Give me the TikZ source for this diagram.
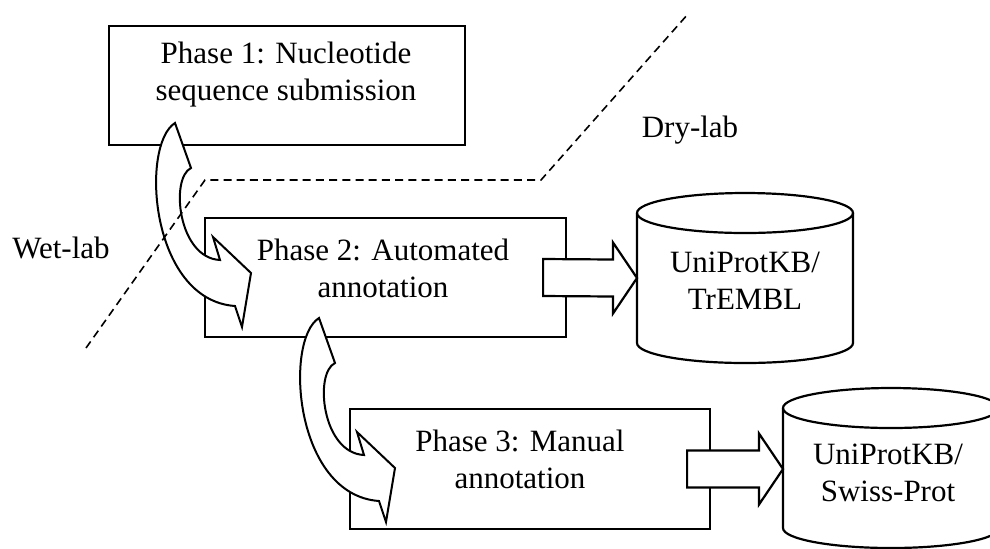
\documentclass[tikz,border=0pt]{standalone}
\usepackage{fontspec}
\setmainfont{Liberation Serif}
\usetikzlibrary{calc}
\begin{document}
\begin{tikzpicture}[x=0.5pt,y=-0.5pt,line join=miter,
  phasebox/.style={draw,line width=1.1pt,fill=white,inner sep=0pt},
  lbl/.style={font=\fontsize{15.5}{18.5}\selectfont,align=center,inner sep=0pt},
  bendstyle/.style={draw,fill=white,line width=1pt},
  blockarrow/.style={draw,fill=white,line width=1.1pt},
  divider/.style={dash pattern=on 4pt off 2.6pt,line width=0.8pt},
  dbline/.style={draw,line width=1.1pt},
  bendarrow/.pic={\path[bendstyle] (175,123) -- (191,168)
      .. controls (170,178) and (178,258) .. (220,260) -- (213,237) -- (251,273)
      -- (242,327) -- (235,306) .. controls (150,300) and (140,145) .. (175,123) -- cycle;}
]
\useasboundingbox (0,0) rectangle (990,548);
\clip (0,0) rectangle (990,548);

% phase boxes
\node[phasebox,minimum width=178pt,minimum height=59.5pt] (box1) at (287,85.5) {};
\node[phasebox,minimum width=180.5pt,minimum height=59.5pt] (box2) at (385.5,277.5) {};
\node[phasebox,minimum width=180pt,minimum height=60pt] (box3) at (530,469) {};

% curved arrows between phases
\pic (bend1) at (0,0) {bendarrow};
\pic (bend2) at (144,195) {bendarrow};

% wet/dry divider
\coordinate (d1) at (86,348);
\coordinate (d2) at (205,180);
\coordinate (d3) at (541,180);
\coordinate (d4) at (688,14);
\draw[divider] (d1) -- (d2) -- (d3) -- (d4);

% databases
\coordinate (c1w) at (637,278);
\coordinate (c2w) at (783,469);
\fill[white] (637,213) -- (637,343) arc[start angle=180,end angle=360,x radius=54pt,y radius=10pt]
  -- (853,213) -- cycle;
\path[dbline] (637,213) -- (637,343) arc[start angle=180,end angle=360,x radius=54pt,y radius=10pt]
  -- (853,213);
\draw[line width=1.1pt] (745,213) ellipse[x radius=54pt,y radius=10pt];
\fill[white] (783,408) -- (783,528) arc[start angle=180,end angle=360,x radius=54pt,y radius=10pt]
  -- (999,408) -- cycle;
\path[dbline] (783,408) -- (783,528) arc[start angle=180,end angle=360,x radius=54pt,y radius=10pt]
  -- (999,408);
\draw[line width=1.1pt] (891,408) ellipse[x radius=54pt,y radius=10pt];

% block arrows
\draw[blockarrow] ($(box2.east)+(-24,-18.5)$) -- ($(c1w)+(-24,-18.5)$) -- ($(c1w)+(-24,-35.5)$)
  -- (c1w) -- ($(c1w)+(-24,35.5)$) -- ($(c1w)+(-24,18.5)$) -- ($(box2.east)+(-24,18.5)$) -- cycle;
\draw[blockarrow] ($(box3.east)+(-24,-18.5)$) -- ($(c2w)+(-24,-18.5)$) -- ($(c2w)+(-24,-35.5)$)
  -- (c2w) -- ($(c2w)+(-24,35.5)$) -- ($(c2w)+(-24,18.5)$) -- ($(box3.east)+(-24,18.5)$) -- cycle;

% texts
\node[lbl] (t1) at (286,75) {Phase 1: Nucleotide\\sequence submission};
\node[lbl] (t2) at (383,268) {Phase 2: Automated\\annotation};
\node[lbl] (t3) at (520,459) {Phase 3: Manual\\annotation};
\node[lbl] (db1) at (745,281) {UniProtKB/\\TrEMBL};
\node[lbl] (db2) at (888,473) {UniProtKB/\\Swiss-Prot};
\node[lbl] (wet) at (61,248) {Wet-lab};
\node[lbl] (dry) at (690,130) {Dry-lab};
\end{tikzpicture}
\end{document}
